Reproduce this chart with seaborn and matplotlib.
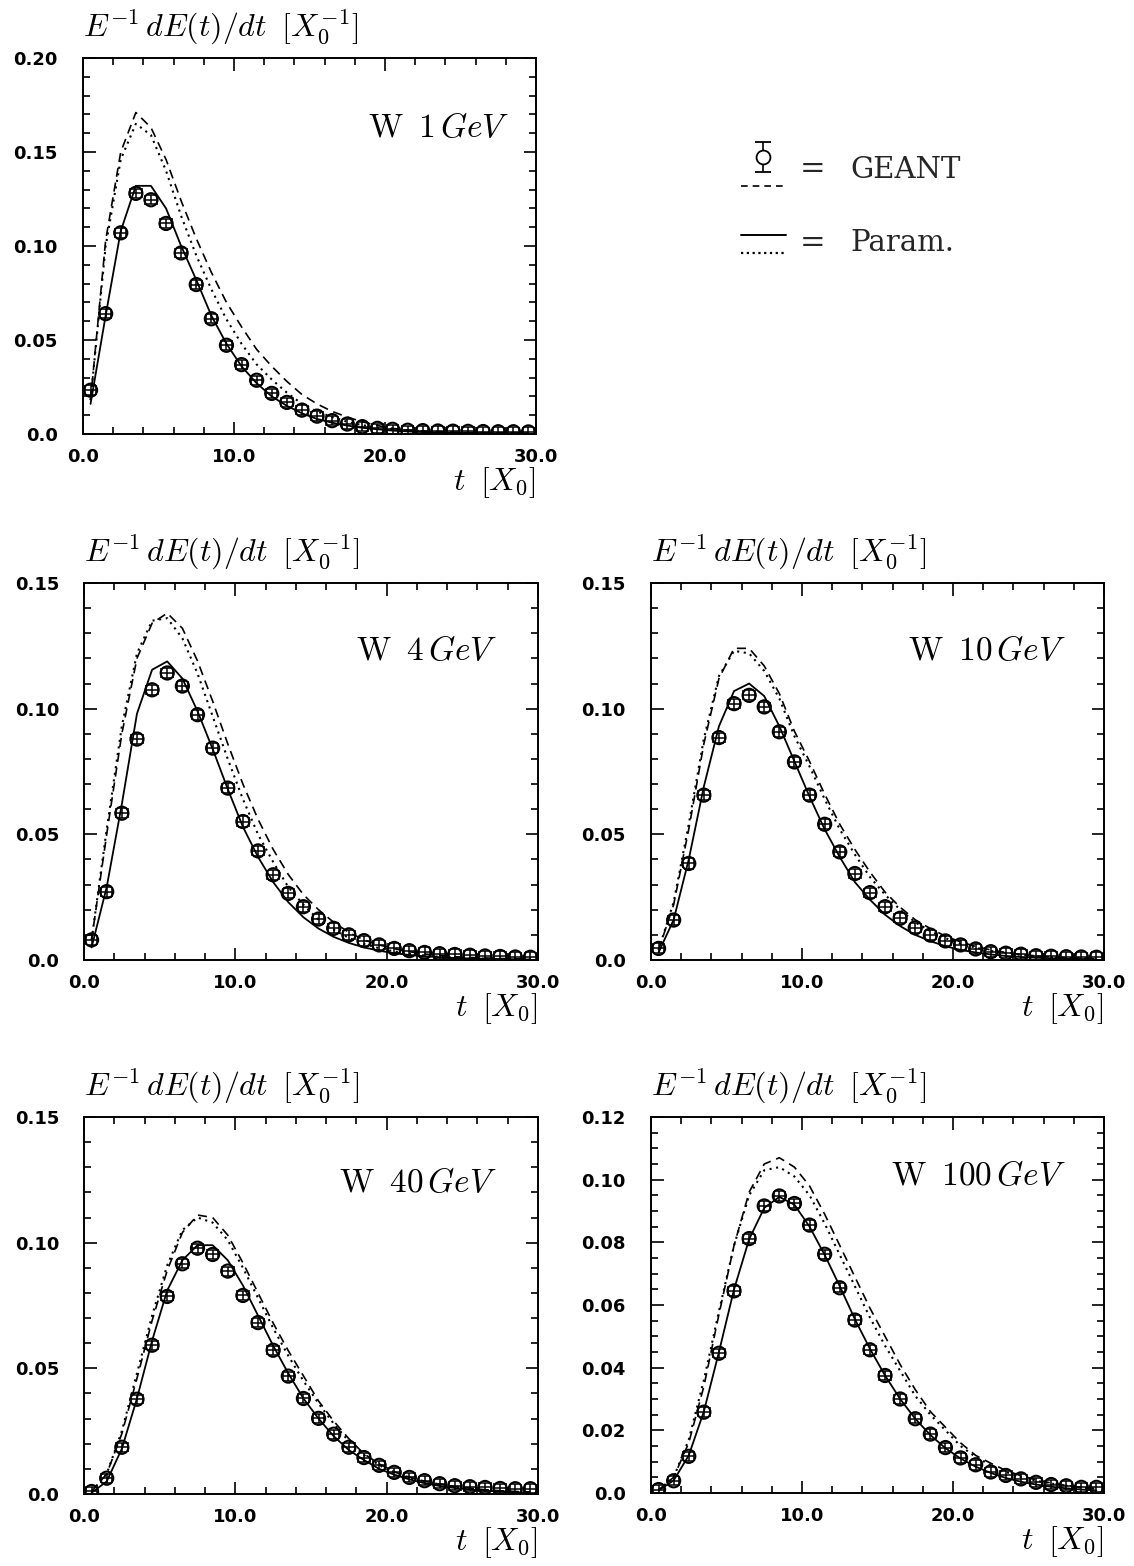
import numpy as np
import pandas as pd
import matplotlib
matplotlib.use("Agg")
import matplotlib.pyplot as plt
import seaborn as sns
from matplotlib.ticker import MultipleLocator, FuncFormatter

# ---------------- data ----------------
T = [0.5, 1.5, 2.5, 3.5, 4.5, 5.5, 6.5, 7.5, 8.5, 9.5,
     10.5, 11.5, 12.5, 13.5, 14.5, 15.5, 16.5, 17.5, 18.5, 19.5,
     20.5, 21.5, 22.5, 23.5, 24.5, 25.5, 26.5, 27.5, 28.5, 29.5]

ENERGY_LABELS = ["1", "4", "10", "40", "100"]

# W 1 GeV
geant_pts_1 = [0.0233, 0.064, 0.107, 0.128, 0.1246, 0.112, 0.0963, 0.0795, 0.0613, 0.0472,
               0.0369, 0.0286, 0.0216, 0.0168, 0.0127, 0.0095, 0.0071, 0.0053, 0.0039, 0.0030,
               0.0025, 0.0020, 0.0018, 0.0016, 0.0015, 0.0014, 0.0013, 0.0012, 0.0012, 0.0011]
geant_dash_1 = [0.018, 0.103, 0.150, 0.171, 0.163, 0.146, 0.124, 0.104, 0.086, 0.070,
                0.057, 0.045, 0.036, 0.028, 0.021, 0.016, 0.012, 0.009, 0.0065, 0.0045,
                0.0030, 0.0020, 0.0015, 0.0012, 0.0010, 0.0008, 0.0007, 0.0006, 0.0005, 0.0005]
param_solid_1 = [0.016, 0.063, 0.108, 0.132, 0.132, 0.120, 0.100, 0.082, 0.063, 0.048,
                 0.036, 0.027, 0.020, 0.015, 0.011, 0.008, 0.006, 0.0045, 0.0033, 0.0025,
                 0.0018, 0.0014, 0.0010, 0.0008, 0.0006, 0.0005, 0.0004, 0.0003, 0.0003, 0.0002]
param_dot_1 = [0.018, 0.100, 0.146, 0.165, 0.159, 0.140, 0.116, 0.095, 0.077, 0.061,
               0.048, 0.037, 0.029, 0.022, 0.016, 0.012, 0.009, 0.0065, 0.0047, 0.0034,
               0.0025, 0.0018, 0.0013, 0.0010, 0.0008, 0.0006, 0.0005, 0.0004, 0.0003, 0.0003]

# W 4 GeV
geant_pts_4 = [0.008, 0.0272, 0.0584, 0.0879, 0.1075, 0.1142, 0.109, 0.0976, 0.0843, 0.0684,
               0.0551, 0.0434, 0.0339, 0.0265, 0.0212, 0.0163, 0.0126, 0.0100, 0.0077, 0.0060,
               0.0046, 0.0037, 0.0030, 0.0025, 0.0022, 0.0019, 0.0016, 0.0014, 0.0012, 0.0011]
geant_dash_4 = [0.008, 0.050, 0.090, 0.120, 0.134, 0.138, 0.132, 0.119, 0.103, 0.086,
                0.070, 0.056, 0.044, 0.034, 0.026, 0.020, 0.015, 0.011, 0.008, 0.006,
                0.0045, 0.0033, 0.0024, 0.0018, 0.0013, 0.0010, 0.0008, 0.0006, 0.0005, 0.0004]
param_solid_4 = [0.005, 0.029, 0.062, 0.098, 0.1155, 0.1188, 0.112, 0.099, 0.084, 0.068,
                 0.053, 0.041, 0.031, 0.023, 0.017, 0.0125, 0.0092, 0.0068, 0.0050, 0.0037,
                 0.0027, 0.0020, 0.0015, 0.0011, 0.0008, 0.0006, 0.0005, 0.0004, 0.0003, 0.0002]
param_dot_4 = [0.008, 0.052, 0.093, 0.122, 0.135, 0.136, 0.128, 0.114, 0.097, 0.080,
               0.064, 0.050, 0.039, 0.029, 0.022, 0.016, 0.012, 0.0088, 0.0064, 0.0047,
               0.0034, 0.0025, 0.0018, 0.0013, 0.0009, 0.0007, 0.0005, 0.0004, 0.0003, 0.0002]

# W 10 GeV
geant_pts_10 = [0.0046, 0.0159, 0.0384, 0.0656, 0.0885, 0.102, 0.1053, 0.1007, 0.0908, 0.0788,
                0.0656, 0.054, 0.043, 0.0344, 0.0268, 0.0212, 0.0166, 0.0128, 0.0099, 0.0076,
                0.0060, 0.0044, 0.0033, 0.0027, 0.0023, 0.0017, 0.0015, 0.0013, 0.0012, 0.0011]
geant_dash_10 = [0.004, 0.022, 0.052, 0.086, 0.112, 0.124, 0.124, 0.117, 0.106, 0.091,
                 0.079, 0.066, 0.054, 0.044, 0.035, 0.027, 0.021, 0.016, 0.0125, 0.0095,
                 0.0072, 0.0054, 0.0040, 0.0030, 0.0022, 0.0016, 0.0012, 0.0009, 0.0007, 0.0005]
param_solid_10 = [0.003, 0.016, 0.040, 0.069, 0.093, 0.107, 0.110, 0.105, 0.093, 0.079,
                  0.065, 0.052, 0.041, 0.031, 0.024, 0.018, 0.0135, 0.010, 0.0075, 0.0055,
                  0.0040, 0.0030, 0.0022, 0.0016, 0.0012, 0.0009, 0.0007, 0.0005, 0.0004, 0.0003]
param_dot_10 = [0.004, 0.023, 0.054, 0.088, 0.113, 0.123, 0.122, 0.115, 0.104, 0.089,
                0.077, 0.064, 0.052, 0.042, 0.033, 0.026, 0.020, 0.015, 0.0115, 0.0087,
                0.0065, 0.0049, 0.0036, 0.0027, 0.0020, 0.0015, 0.0011, 0.0008, 0.0006, 0.0004]

# W 40 GeV
geant_pts_40 = [0.0010, 0.0063, 0.0186, 0.0377, 0.0592, 0.0786, 0.0916, 0.0978, 0.0953, 0.0887,
                0.079, 0.0682, 0.0572, 0.0469, 0.038, 0.0301, 0.0238, 0.0186, 0.0145, 0.0114,
                0.0086, 0.0066, 0.0053, 0.0041, 0.0033, 0.0029, 0.0026, 0.0022, 0.0021, 0.0021]
geant_dash_40 = [0.001, 0.008, 0.024, 0.046, 0.069, 0.089, 0.104, 0.111, 0.110, 0.103,
                 0.092, 0.080, 0.068, 0.057, 0.047, 0.037, 0.029, 0.022, 0.016, 0.012,
                 0.0088, 0.0067, 0.0051, 0.0039, 0.0030, 0.0023, 0.0017, 0.0013, 0.0010, 0.0008]
param_solid_40 = [0.0005, 0.005, 0.018, 0.038, 0.061, 0.081, 0.093, 0.099, 0.099, 0.093,
                  0.083, 0.071, 0.059, 0.048, 0.038, 0.030, 0.023, 0.0175, 0.0135, 0.010,
                  0.0077, 0.0058, 0.0043, 0.0032, 0.0024, 0.0018, 0.0013, 0.0010, 0.0007, 0.0005]
param_dot_40 = [0.001, 0.008, 0.025, 0.048, 0.071, 0.091, 0.105, 0.110, 0.108, 0.101,
                0.090, 0.078, 0.066, 0.055, 0.045, 0.036, 0.028, 0.021, 0.0155, 0.0115,
                0.0085, 0.0063, 0.0047, 0.0035, 0.0026, 0.0019, 0.0014, 0.0010, 0.0008, 0.0006]

# W 100 GeV
geant_pts_100 = [0.0011, 0.0039, 0.0117, 0.0258, 0.0446, 0.0645, 0.0812, 0.0916, 0.0948, 0.0924,
                 0.0855, 0.0762, 0.0655, 0.0552, 0.0457, 0.0375, 0.030, 0.0237, 0.0188, 0.0145,
                 0.0112, 0.0090, 0.0067, 0.0056, 0.0045, 0.0034, 0.0027, 0.0023, 0.0018, 0.0018]
geant_dash_100 = [0.001, 0.005, 0.016, 0.034, 0.057, 0.079, 0.096, 0.105, 0.107, 0.104,
                  0.098, 0.089, 0.079, 0.069, 0.059, 0.050, 0.041, 0.033, 0.026, 0.021,
                  0.016, 0.012, 0.0095, 0.0072, 0.0055, 0.0042, 0.0032, 0.0024, 0.0018, 0.0014]
param_solid_100 = [0.0008, 0.004, 0.012, 0.026, 0.045, 0.065, 0.081, 0.091, 0.0945, 0.092,
                   0.085, 0.076, 0.066, 0.0555, 0.046, 0.0375, 0.030, 0.0237, 0.0185, 0.0143,
                   0.011, 0.0084, 0.0064, 0.0048, 0.0036, 0.0027, 0.0020, 0.0015, 0.0011, 0.0008]
param_dot_100 = [0.001, 0.005, 0.017, 0.036, 0.058, 0.079, 0.095, 0.103, 0.104, 0.101,
                 0.095, 0.086, 0.076, 0.066, 0.056, 0.047, 0.039, 0.031, 0.025, 0.020,
                 0.015, 0.0115, 0.0088, 0.0067, 0.0051, 0.0039, 0.0030, 0.0023, 0.0017, 0.0013]

GEANT_ERR = [0.0025, 0.0020, 0.0020, 0.0018, 0.0015]

Y_MAX = [0.20, 0.15, 0.15, 0.15, 0.12]
Y_MAJOR = [0.05, 0.05, 0.05, 0.05, 0.02]
Y_MINOR = [0.01, 0.01, 0.01, 0.01, 0.005]

POINTS = [geant_pts_1, geant_pts_4, geant_pts_10, geant_pts_40, geant_pts_100]
DASHED = [geant_dash_1, geant_dash_4, geant_dash_10, geant_dash_40, geant_dash_100]
SOLID = [param_solid_1, param_solid_4, param_solid_10, param_solid_40, param_solid_100]
DOTTED = [param_dot_1, param_dot_4, param_dot_10, param_dot_40, param_dot_100]

# ---------------- style ----------------
sns.set_theme(style="ticks")
plt.rcParams['font.family'] = ['DejaVu Sans']
plt.rcParams['mathtext.fontset'] = 'cm'
plt.rcParams['axes.linewidth'] = 1.4

W, H = 1134, 1566
fig = plt.figure(figsize=(W / 100, H / 100), dpi=100)
fig.patch.set_facecolor('white')

# axes boxes in pixels: left, top, right, bottom
BOXES = [(83, 58, 536, 434),
         (84, 583, 538, 960),
         (651, 583, 1104, 960),
         (84, 1117, 538, 1494),
         (651, 1117, 1104, 1493)]
LABEL_POS = [(0.94, 0.815), (0.91, 0.822), (0.915, 0.82), (0.91, 0.825), (0.915, 0.845)]

DASH = (0, (5.5, 3.5))
DOT = (0, (1.0, 2.2))


def yfmt(v, pos):
    if abs(v) < 1e-12:
        return "0.0"
    return f"{v:.2f}"


def xfmt(v, pos):
    return f"{v:.1f}"


for i in range(5):
    l, t, r, b = BOXES[i]
    ax = fig.add_axes([l / W, 1 - b / H, (r - l) / W, (b - t) / H])
    ax.set_facecolor('white')
    df = pd.DataFrame({"t": T, "pts": POINTS[i], "dash": DASHED[i],
                       "solid": SOLID[i], "dot": DOTTED[i]})

    sns.lineplot(data=df, x="t", y="dash", ax=ax, color="black", lw=1.2,
                 linestyle=DASH, zorder=2)
    sns.lineplot(data=df, x="t", y="dot", ax=ax, color="black", lw=1.5,
                 linestyle=DOT, zorder=2)
    sns.lineplot(data=df, x="t", y="solid", ax=ax, color="black", lw=1.3,
                 zorder=2)
    sns.scatterplot(data=df, x="t", y="pts", ax=ax, marker="o", s=90,
                    facecolor="none", edgecolor="black", linewidth=1.5, zorder=3)
    ax.errorbar(df["t"], df["pts"], yerr=GEANT_ERR[i], xerr=0.38, fmt="none",
                ecolor="black", elinewidth=1.1, capsize=3.5, capthick=1.1, zorder=4)

    ax.set_xlim(0, 30)
    ax.set_ylim(0, Y_MAX[i])
    ax.xaxis.set_major_locator(MultipleLocator(10))
    ax.xaxis.set_minor_locator(MultipleLocator(2))
    ax.yaxis.set_major_locator(MultipleLocator(Y_MAJOR[i]))
    ax.yaxis.set_minor_locator(MultipleLocator(Y_MINOR[i]))
    ax.xaxis.set_major_formatter(FuncFormatter(xfmt))
    ax.yaxis.set_major_formatter(FuncFormatter(yfmt))
    ax.tick_params(which="both", direction="in", top=True, right=True,
                   colors="black", width=1.2)
    ax.tick_params(which="major", length=9, labelsize=13)
    ax.tick_params(axis="y", which="major", pad=18)
    ax.tick_params(axis="x", which="major", pad=10)
    ax.tick_params(which="minor", length=5)
    for lab in ax.get_xticklabels() + ax.get_yticklabels():
        lab.set_fontweight("bold")
    for sp in ax.spines.values():
        sp.set_color("black")
        sp.set_linewidth(1.4)
    ax.set_xlabel("")
    ax.set_ylabel("")

    ax.text(0.0, 1.03, r"$E^{-1}\,dE(t)/dt\;\;[X_0^{-1}]$", transform=ax.transAxes,
            ha="left", va="bottom", fontsize=23, color="black")
    ax.text(1.0, -0.13, r"$t\;\;[X_0]$", transform=ax.transAxes,
            ha="right", va="center", fontsize=23, color="black")
    lxp, lyp = LABEL_POS[i]
    ax.text(lxp, lyp, r"$\mathrm{W}\;\;" + ENERGY_LABELS[i] + r"\,GeV$",
            transform=ax.transAxes, ha="right", va="center", fontsize=24, color="black")

# ---------------- legend ----------------
lx0, ly0, lx1, ly1 = 700, 120, 1000, 280
lax = fig.add_axes([lx0 / W, 1 - ly1 / H, (lx1 - lx0) / W, (ly1 - ly0) / H])
lax.set_xlim(lx0, lx1)
lax.set_ylim(ly1, ly0)
lax.axis("off")
lax.errorbar([763], [157], yerr=[[15]], fmt="o", ms=10, mfc="white", mec="black",
             mew=1.3, ecolor="black", elinewidth=1.2, capsize=6, capthick=1.2)
lax.plot([741, 786], [186, 186], color="black", lw=1.2, linestyle=(0, (4, 3)))
lax.plot([741, 786], [235, 235], color="black", lw=1.4)
lax.plot([741, 786], [253, 253], color="black", lw=1.6, linestyle=(0, (1, 1.6)))
lax.text(800, 170, "=", fontsize=22, family="DejaVu Serif", ha="left", va="center")
lax.text(850, 170, "GEANT", fontsize=21, family="DejaVu Serif", ha="left", va="center")
lax.text(800, 243, "=", fontsize=22, family="DejaVu Serif", ha="left", va="center")
lax.text(850, 243, "Param.", fontsize=21, family="DejaVu Serif", ha="left", va="center")

fig.savefig("out.png", dpi=100, facecolor="white")
